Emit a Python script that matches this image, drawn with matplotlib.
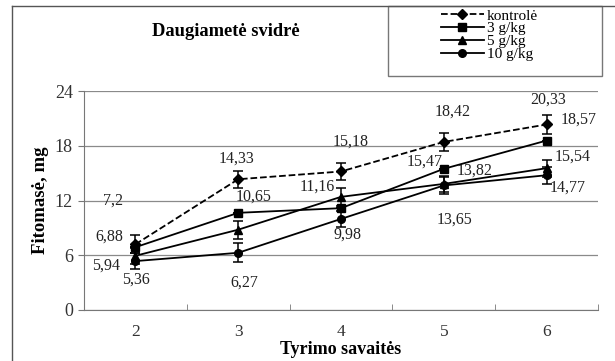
import matplotlib.pyplot as plt
from matplotlib.lines import Line2D
from matplotlib.patches import Rectangle

plt.rcParams['font.family'] = ['Liberation Serif', 'DejaVu Serif']

weeks = [2, 3, 4, 5, 6]
series_names = ['kontrolė', '3 g/kg', '5 g/kg', '10 g/kg']
kontrole = [7.2, 14.33, 15.18, 18.42, 20.33]
g3 = [6.88, 10.65, 11.16, 15.47, 18.57]
g5 = [5.94, 8.8, 12.4, 13.82, 15.54]
g10 = [5.36, 6.27, 9.98, 13.65, 14.77]
err_kontrole = [1.0, 0.95, 0.95, 1.0, 1.05]
err_g3 = [0, 0, 0, 0, 0]
err_g5 = [0.9, 1.0, 1.0, 0.9, 0.95]
err_g10 = [0.9, 1.05, 0.9, 0.9, 0.95]
# value labels (None = no label)
labels_kontrole = ['7,2', '14,33', '15,18', '18,42', '20,33']
labels_g3 = ['6,88', '10,65', '11,16', '15,47', '18,57']
labels_g5 = ['5,94', None, None, '13,82', '15,54']
labels_g10 = ['5,36', '6,27', '9,98', '13,65', '14,77']

# label offsets in pixels (dx, dy up)
off_kontrole = [(-22, 44), (-2, 21), (10, 30), (9, 30), (2, 25)]
off_g3 = [(-26, 11), (15, 16), (-24, 22), (-19, 7), (32, 21)]
off_g5 = [(-29, -10), None, None, (31, 13), (26, 12)]
off_g10 = [(1, -19), (6, -30), (7, -16), (11, -34), (21, -12)]

fig = plt.figure(figsize=(6.15, 3.61), dpi=100)
ax = fig.add_axes([84 / 615, 1 - 310 / 361, (598 - 84) / 615, (310 - 91) / 361])

styles = [
    dict(ls='--', marker='D', ms=5),
    dict(ls='-', marker='s', ms=5.5),
    dict(ls='-', marker='^', ms=6),
    dict(ls='-', marker='o', ms=5.5),
]
data = [kontrole, g3, g5, g10]
errs = [err_kontrole, err_g3, err_g5, err_g10]
labels = [labels_kontrole, labels_g3, labels_g5, labels_g10]
offs = [off_kontrole, off_g3, off_g5, off_g10]

for vals, err, st, labs, off in zip(data, errs, styles, labels, offs):
    ax.errorbar(weeks, vals, yerr=err, color='black', lw=1.3, capsize=3.5,
                elinewidth=1.1, capthick=1.1, zorder=3, **st)
    for x, y, t, o in zip(weeks, vals, labs, off):
        if t is None:
            continue
        ax.annotate(t, (x, y), xytext=(o[0] * 0.72, o[1] * 0.72),
                    textcoords='offset points', ha='center', va='center',
                    fontsize=11.5, color='#222222')

ax.set_xlim(1.5, 6.5)
ax.set_ylim(0, 24)
ax.set_yticks([0, 6, 12, 18, 24])
ax.set_xticks(weeks)
ax.set_xticks([1.5, 2.5, 3.5, 4.5, 5.5, 6.5], minor=True)
ax.tick_params(axis='x', which='major', length=0, pad=10, labelsize=12.5, colors='#333333')
ax.tick_params(axis='x', which='minor', length=4, direction='in', color='#777777')
ax.tick_params(axis='y', length=4, direction='out', pad=4, labelsize=13,
               color='#777777', labelcolor='#333333')
ax.yaxis.grid(True, color='#8a8a8a', lw=0.9)
ax.set_axisbelow(True)
for s in ['top', 'right']:
    ax.spines[s].set_visible(False)
for s in ['left', 'bottom']:
    ax.spines[s].set_color('#777777')

ax.set_ylabel('Fitomasė, mg', fontsize=13.5, fontweight='bold', labelpad=4)
ax.set_xlabel('Tyrimo savaitės', fontsize=13, fontweight='bold', labelpad=0.5)

fig.text(226 / 615, 1 - 32 / 361, 'Daugiametė svidrė', ha='center', va='center',
         fontsize=13.3, fontweight='bold')

# outer frame lines
fig.add_artist(Line2D([12 / 615, 12 / 615], [0, 1 - 6 / 361], color='#555555', lw=1))
fig.add_artist(Line2D([12 / 615, 1], [1 - 6 / 361, 1 - 6 / 361], color='#555555', lw=1))

# legend box
fig.add_artist(Rectangle((388 / 615, 1 - 76 / 361), (602 - 388) / 615, 70 / 361,
                         transform=fig.transFigure, fill=False, ec='#777777', lw=1))
handles = [Line2D([], [], color='black', lw=1.3, **st) for st in styles]
fig.legend(handles, series_names, loc='upper left',
           bbox_to_anchor=(441 / 615, 1 - 9 / 361), frameon=False, fontsize=11,
           handlelength=2.8, handletextpad=0.2, labelspacing=-0.06, borderpad=0,
           borderaxespad=0)

fig.savefig('out.png', dpi=100)
